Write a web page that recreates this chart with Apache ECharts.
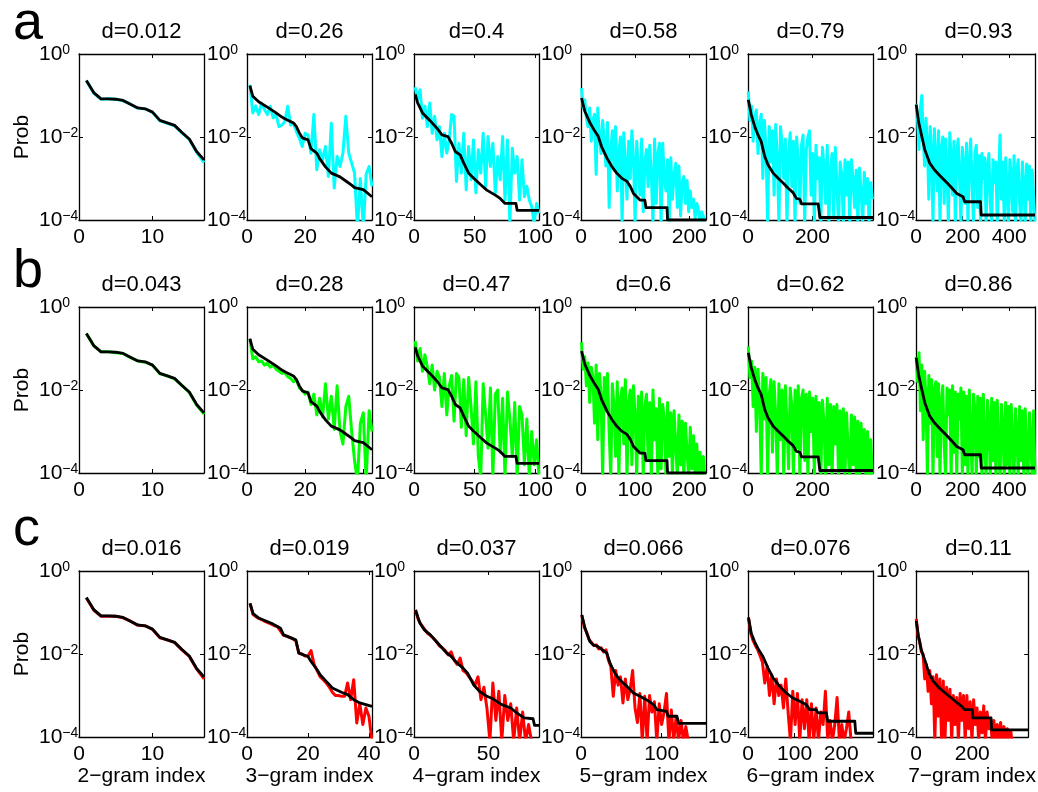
<!DOCTYPE html>
<html><head><meta charset="utf-8">
<script src="https://cdn.jsdelivr.net/npm/echarts@6/dist/echarts.min.js"></script>
<style>html,body{margin:0;padding:0;background:#fff}#c{width:1038px;height:792px}</style>
</head><body><div id="c"></div>
<script>
// ---------- DATA (all probabilities stored as log10(Prob)) ----------
const rowLetters = ['a', 'b', 'c'];
const dA = ['0.012', '0.26', '0.4', '0.58', '0.79', '0.93'];
const dB = ['0.043', '0.28', '0.47', '0.6', '0.62', '0.86'];
const dC = ['0.016', '0.019', '0.037', '0.066', '0.076', '0.11'];
const xNames = ['2\u2212gram index', '3\u2212gram index', '4\u2212gram index', '5\u2212gram index', '6\u2212gram index', '7\u2212gram index'];
const xMaxAB = [17, 43, 103, 231, 388, 511];
const xMaxC = [17, 41, 84, 155, 268, 399];
const xTickAB = [10, 20, 50, 100, 200, 200];
const xTickC = [10, 20, 50, 100, 100, 200];
// index spacing of the sampled coloured curves
const stepAB = [1, 1, 2, 3, 5, 6];
const stepC = [1, 1, 2, 3, 5, 6];

// black (data) curves, [index, log10 prob]
const blk2 = [[1,-0.64],[2,-0.93],[3,-1.08],[4,-1.08],[5,-1.09],[6,-1.12],[7,-1.21],[8,-1.30],[9,-1.32],[10,-1.40],[11,-1.60],[12,-1.66],[13,-1.72],[14,-1.89],[15,-2.05],[16,-2.35],[17,-2.55]];
const blkAB3 = [[1,-0.76],[2,-1.02],[4,-1.15],[7,-1.28],[10,-1.42],[12,-1.52],[13,-1.56],[16,-1.66],[17,-1.75],[18,-1.90],[19,-2.02],[21,-2.07],[22,-2.28],[24,-2.39],[25,-2.52],[27,-2.72],[29,-2.87],[31,-2.93],[32,-2.96],[34,-3.06],[36,-3.16],[37,-3.22],[40,-3.27],[43,-3.44]];
const blkAB4 = [[1,-0.97],[3,-1.18],[7,-1.42],[13,-1.60],[19,-1.79],[23,-1.95],[28,-1.99],[31,-2.15],[34,-2.35],[38,-2.43],[41,-2.63],[45,-2.87],[49,-2.99],[55,-3.15],[60,-3.28],[67,-3.40],[71,-3.48],[75,-3.60],[84,-3.60],[85,-3.77],[103,-3.77]];
const blkAB5 = [[1,-1.06],[7,-1.38],[17,-1.67],[26,-1.87],[32,-1.99],[38,-2.23],[48,-2.51],[57,-2.71],[66,-2.87],[75,-2.99],[85,-3.07],[91,-3.19],[97,-3.36],[109,-3.52],[118,-3.52],[120,-3.70],[159,-3.70],[160,-4.0],[231,-4.0]];
const blkAB6 = [[1,-1.10],[10,-1.46],[21,-1.75],[31,-1.95],[41,-2.11],[52,-2.47],[62,-2.67],[78,-2.87],[93,-2.99],[109,-3.11],[124,-3.23],[140,-3.34],[150,-3.48],[161,-3.50],[166,-3.61],[218,-3.61],[223,-3.94],[388,-3.94]];
const blkAB7 = [[1,-1.22],[11,-1.63],[25,-1.99],[38,-2.31],[59,-2.63],[79,-2.79],[106,-2.95],[134,-3.11],[154,-3.23],[175,-3.36],[202,-3.44],[209,-3.56],[277,-3.56],[280,-3.88],[511,-3.88]];
const blkC3 = [[1,-0.78],[2,-1.03],[4,-1.14],[8,-1.26],[11,-1.38],[12,-1.54],[14,-1.60],[16,-1.66],[17,-1.98],[20,-2.06],[21,-2.18],[23,-2.38],[24,-2.50],[26,-2.66],[28,-2.82],[31,-2.92],[33,-2.98],[35,-3.10],[37,-3.18],[41,-3.26]];
const blkC4 = [[1,-0.94],[4,-1.26],[7,-1.42],[11,-1.54],[15,-1.70],[18,-1.82],[22,-1.98],[25,-2.06],[29,-2.22],[33,-2.34],[36,-2.46],[40,-2.74],[44,-2.90],[49,-3.02],[53,-3.08],[59,-3.22],[65,-3.30],[69,-3.42],[74,-3.54],[80,-3.56],[81,-3.72],[84,-3.72]];
const blkC5 = [[1,-1.06],[5,-1.38],[11,-1.70],[15,-1.78],[21,-1.82],[32,-1.98],[36,-2.22],[42,-2.46],[48,-2.62],[57,-2.78],[65,-2.94],[73,-3.02],[81,-3.10],[90,-3.22],[94,-3.34],[106,-3.38],[108,-3.50],[119,-3.50],[121,-3.67],[155,-3.67]];
const blkC6 = [[1,-1.12],[7,-1.50],[14,-1.70],[21,-1.86],[32,-2.06],[43,-2.34],[54,-2.58],[68,-2.78],[82,-2.94],[96,-3.06],[111,-3.14],[125,-3.22],[132,-3.34],[146,-3.34],[150,-3.42],[168,-3.42],[171,-3.62],[229,-3.62],[231,-3.91],[268,-3.91]];
const blkC7 = [[1,-1.20],[2,-1.26],[9,-1.58],[19,-1.90],[35,-2.22],[46,-2.46],[62,-2.66],[83,-2.82],[104,-2.94],[126,-3.06],[147,-3.18],[163,-3.26],[173,-3.34],[200,-3.34],[202,-3.54],[267,-3.54],[269,-3.83],[399,-3.83]];

// coloured (model) curves, log10 prob sampled every `step` indices from index 1
const cyan2 = [-0.64,-0.94,-1.09,-1.08,-1.09,-1.13,-1.21,-1.31,-1.32,-1.41,-1.61,-1.67,-1.73,-1.90,-2.06,-2.37,-2.62];
const cyan3 = [-0.74,-1.42,-1.25,-1.46,-1.18,-1.34,-1.46,-1.26,-1.54,-1.46,-1.75,-1.71,-1.63,-1.26,-1.71,-1.67,-1.87,-2.03,-2.23,-1.91,-1.95,-2.39,-1.46,-2.79,-2.31,-2.55,-2.23,-2.95,-1.67,-3.23,-2.47,-2.71,-2.39,-1.50,-2.39,-2.63,-2.87,-4.2,-3.0,-4.2,-2.9,-2.71,-3.19];
const cyan4 = [-0.80,-1.10,-0.86,-1.55,-1.26,-1.75,-1.18,-1.91,-1.50,-2.07,-1.75,-2.47,-1.91,-2.39,-2.07,-1.46,-1.50,-3.07,-2.15,-2.87,-1.91,-3.27,-2.23,-3.03,-2.07,-3.35,-2.31,-2.87,-1.91,-3.19,-1.99,-2.71,-2.15,-3.35,-2.47,-3.03,-1.99,-3.52,-2.07,-4.1,-2.27,-2.87,-2.47,-3.52,-2.55,-3.44,-3.19,-3.52,-3.68,-4.1,-3.60,-3.84];
const cyan5 = [-0.82,-1.30,-1.10,-1.55,-1.75,-1.30,-2.10,-1.60,-1.45,-2.90,-1.30,-2.00,-2.40,-1.60,-2.10,-2.70,-1.65,-3.70,-2.30,-1.85,-2.80,-1.75,-3.30,-2.40,-2.00,-4.1,-1.90,-2.60,-3.50,-2.10,-3.00,-1.85,-2.50,-4.1,-2.10,-2.80,-3.40,-2.05,-3.80,-2.60,-2.30,-3.20,-2.20,-2.90,-4.1,-2.05,-3.60,-2.40,-2.15,-4.1,-2.15,-3.00,-3.30,-2.55,-4.1,-2.50,-3.50,-2.90,-2.63,-3.70,-2.70,-3.90,-3.10,-2.95,-3.60,-3.05,-3.80,-3.30,-3.70,-3.50,-3.95,-3.60,-3.75,-4.1,-3.80,-3.90,-4.1];
const cyan6 = [-0.90,-1.60,-1.25,-2.10,-1.50,-1.35,-2.40,-1.70,-1.45,-3.00,-1.60,-2.30,-4.1,-1.75,-2.60,-1.85,-3.40,-1.70,-2.50,-4.1,-1.75,-2.20,-3.00,-2.05,-4.1,-2.40,-1.90,-3.20,-2.10,-4.1,-2.00,-2.60,-3.60,-2.20,-1.95,-4.1,-2.30,-2.00,-1.85,-3.40,-2.40,-4.1,-2.20,-3.00,-2.50,-4.1,-2.25,-2.70,-3.60,-2.20,-4.1,-2.80,-2.40,-3.90,-2.25,-3.20,-4.1,-2.60,-2.90,-4.1,-2.55,-3.40,-2.60,-4.1,-2.55,-3.00,-3.70,-2.80,-4.1,-2.75,-3.30,-4.1,-2.85,-3.60,-3.00,-4.1,-3.10,-3.50];
const cyan7 = [-1.20,-1.60,-2.30,-1.30,-1.00,-2.00,-2.70,-1.55,-2.20,-3.50,-1.75,-2.40,-4.1,-1.80,-2.60,-3.30,-1.85,-4.1,-2.30,-2.00,-3.60,-2.05,-2.80,-4.1,-1.90,-2.50,-3.40,-2.10,-4.1,-2.40,-2.05,-3.00,-4.1,-2.25,-2.70,-3.60,-2.15,-4.1,-2.60,-2.05,-3.20,-4.1,-2.40,-2.20,-3.70,-2.45,-4.1,-2.40,-3.00,-2.50,-4.1,-2.70,-2.40,-3.60,-4.1,-2.55,-3.10,-2.60,-4.1,-2.90,-1.95,-3.50,-2.60,-4.1,-2.50,-3.30,-4.1,-2.55,-2.90,-3.80,-2.45,-4.1,-2.80,-2.55,-3.60,-4.1,-2.60,-3.20,-4.1,-2.65,-3.50,-2.70,-4.1,-2.80,-3.40,-4.1];

const green2 = [-0.64,-0.93,-1.08,-1.08,-1.10,-1.12,-1.22,-1.30,-1.33,-1.40,-1.61,-1.66,-1.73,-1.89,-2.06,-2.36,-2.58];
const green3 = [-0.78,-1.25,-1.20,-1.32,-1.30,-1.40,-1.35,-1.45,-1.40,-1.50,-1.55,-1.60,-1.58,-1.68,-1.72,-1.80,-1.75,-1.95,-2.00,-2.10,-2.05,-2.35,-2.10,-2.60,-2.20,-2.65,-1.85,-2.70,-2.15,-2.95,-1.90,-3.00,-3.30,-2.40,-2.15,-3.00,-3.70,-4.2,-2.80,-2.55,-4.2,-2.50,-3.00];
const green4 = [-0.82,-1.30,-1.00,-1.55,-1.15,-1.45,-1.85,-1.40,-2.00,-1.55,-1.70,-2.40,-1.60,-2.60,-1.90,-1.65,-2.75,-1.60,-1.70,-2.90,-1.75,-3.10,-1.70,-2.40,-3.30,-1.80,-3.60,-4.1,-1.85,-2.60,-3.40,-1.95,-4.1,-2.10,-2.00,-3.50,-2.20,-4.1,-2.05,-2.70,-3.60,-2.30,-4.1,-2.40,-2.60,-3.80,-2.70,-4.1,-3.00,-3.80,-3.20,-4.1];
const green5 = [-0.85,-1.50,-1.20,-1.90,-1.35,-2.30,-1.45,-1.70,-2.80,-1.40,-3.20,-1.60,-2.10,-4.1,-1.70,-2.50,-1.60,-3.00,-4.1,-1.85,-2.40,-3.60,-1.80,-4.1,-2.20,-1.95,-3.30,-1.75,-4.1,-2.30,-2.00,-3.80,-1.90,-2.60,-4.1,-2.15,-3.50,-2.05,-4.1,-2.40,-2.10,-3.70,-2.30,-4.1,-2.00,-3.20,-2.45,-4.1,-2.20,-3.90,-2.35,-2.70,-4.1,-2.30,-3.60,-2.55,-4.1,-2.50,-3.30,-4.1,-2.60,-3.80,-2.75,-4.1,-2.80,-3.50,-4.1,-2.90,-3.90,-3.10,-4.1,-3.30,-4.1,-3.50,-4.1,-3.60,-4.1];
const green6 = [-0.95,-1.70,-1.30,-2.40,-1.45,-3.00,-1.50,-2.20,-4.1,-1.60,-2.70,-1.70,-4.1,-2.10,-1.75,-3.50,-1.80,-2.60,-4.1,-1.85,-3.20,-2.00,-4.1,-1.90,-2.80,-3.90,-1.95,-2.40,-4.1,-2.00,-3.40,-1.90,-4.1,-2.20,-2.00,-3.70,-2.10,-4.1,-2.05,-3.00,-2.20,-4.1,-2.15,-3.60,-2.30,-4.1,-2.25,-2.80,-4.1,-2.20,-3.80,-2.35,-4.1,-2.40,-3.30,-2.35,-4.1,-2.50,-3.90,-2.45,-4.1,-2.55,-3.50,-4.1,-2.60,-3.80,-2.65,-4.1,-2.75,-4.1,-2.80,-3.90,-2.95,-4.1,-3.00,-4.1,-3.20,-4.1];
const green7 = [-1.20,-1.80,-1.10,-2.50,-1.40,-3.20,-1.55,-2.20,-4.1,-1.65,-2.80,-1.75,-4.1,-2.00,-1.80,-3.60,-1.85,-4.1,-2.30,-1.90,-3.30,-4.1,-1.95,-2.60,-2.00,-4.1,-1.90,-3.50,-2.05,-4.1,-2.10,-2.70,-1.95,-4.1,-2.05,-3.80,-2.15,-4.1,-2.00,-3.00,-4.1,-2.10,-2.50,-4.1,-2.15,-3.60,-2.20,-4.1,-2.10,-3.20,-4.1,-2.25,-2.70,-4.1,-2.20,-3.70,-2.30,-4.1,-2.25,-3.40,-4.1,-2.35,-2.90,-4.1,-2.30,-3.80,-2.40,-4.1,-2.35,-3.30,-4.1,-2.45,-3.00,-4.1,-2.40,-3.70,-2.50,-4.1,-2.45,-3.50,-4.1,-2.55,-3.20,-4.1,-2.50,-4.1];

const red2 = [-0.65,-0.94,-1.09,-1.09,-1.09,-1.13,-1.21,-1.31,-1.32,-1.41,-1.61,-1.66,-1.72,-1.90,-2.06,-2.36,-2.60];
const red3 = [-0.78,-1.05,-1.10,-1.15,-1.18,-1.22,-1.25,-1.28,-1.32,-1.34,-1.45,-1.55,-1.57,-1.60,-1.63,-1.68,-1.98,-2.00,-2.05,-2.05,-1.92,-2.25,-2.40,-2.55,-2.62,-2.70,-2.80,-2.92,-3.00,-3.00,-3.02,-3.02,-2.70,-3.10,-2.62,-3.66,-3.20,-3.70,-3.30,-3.50,-4.1];
const red4 = [-0.94,-1.18,-1.30,-1.40,-1.50,-1.55,-1.62,-1.70,-1.80,-1.85,-1.92,-2.02,-1.95,-2.15,-2.25,-2.10,-2.40,-2.45,-2.55,-2.65,-2.75,-2.55,-3.10,-2.80,-3.30,-4.1,-2.70,-3.60,-2.90,-4.1,-3.00,-3.60,-3.20,-4.1,-3.30,-4.1,-3.40,-4.1,-3.70,-4.1,-4.2,-4.2];
const red5 = [-1.06,-1.35,-1.48,-1.65,-1.72,-1.80,-1.78,-1.88,-1.85,-1.95,-1.90,-2.15,-2.30,-3.02,-2.40,-2.75,-2.55,-3.18,-2.60,-3.10,-2.85,-2.40,-3.30,-3.65,-2.95,-4.1,-3.02,-4.1,-3.00,-3.40,-3.15,-4.1,-3.20,-3.70,-3.40,-2.95,-4.1,-3.35,-4.1,-3.50,-4.1,-3.60,-4.1,-3.75,-4.1,-4.1,-4.2];
const red6 = [-1.12,-1.50,-1.68,-1.80,-1.90,-2.05,-2.20,-2.70,-2.30,-3.00,-2.50,-3.20,-2.60,-3.00,-2.75,-3.30,-2.60,-3.40,-4.1,-2.90,-3.70,-2.95,-4.1,-3.10,-3.80,-3.10,-4.1,-3.20,-4.1,-3.30,-4.1,-3.40,-3.70,-2.90,-4.1,-3.60,-4.1,-3.70,-3.05,-4.1,-3.70,-4.1,-3.80,-3.40,-4.1];
const red7 = [-1.15,-1.55,-1.70,-1.95,-2.00,-2.60,-2.25,-2.90,-2.40,-3.20,-2.55,-4.1,-2.50,-3.50,-2.60,-4.1,-2.65,-4.1,-2.80,-3.60,-2.85,-4.1,-3.00,-3.70,-3.05,-4.1,-2.95,-3.60,-3.00,-4.1,-3.00,-3.80,-3.15,-4.1,-3.10,-3.70,-3.30,-4.1,-3.40,-3.90,-3.25,-4.1,-3.40,-3.80,-3.55,-4.1,-3.60,-4.1,-3.70,-4.1,-3.65,-4.1,-3.75,-4.1,-3.80,-4.1,-3.85,-4.2];

// ---------- BUILD ----------
const FONT = '"Liberation Sans", Arial, Helvetica, sans-serif';
const gridLeft = [79, 247, 414, 581, 748, 916];
const gridTop = [54, 307, 571];
const letterY = [24, 272, 530];
const PW = 125, PH = 166;
const rows = [
  { color: '#00ffff', d: dA, xmax: xMaxAB, tick: xTickAB, step: stepAB, black: [blk2, blkAB3, blkAB4, blkAB5, blkAB6, blkAB7], model: [cyan2, cyan3, cyan4, cyan5, cyan6, cyan7] },
  { color: '#00ff00', d: dB, xmax: xMaxAB, tick: xTickAB, step: stepAB, black: [blk2, blkAB3, blkAB4, blkAB5, blkAB6, blkAB7], model: [green2, green3, green4, green5, green6, green7] },
  { color: '#ff0000', d: dC, xmax: xMaxC, tick: xTickC, step: stepC, black: [blk2, blkC3, blkC4, blkC5, blkC6, blkC7], model: [red2, red3, red4, red5, red6, red7] }
];

const grid = [], xAxis = [], yAxis = [], series = [], graphic = [];
const txt = { color: '#000', fontFamily: FONT };
rows.forEach((row, r) => {
  graphic.push({ type: 'text', x: 13, y: letterY[r], silent: true,
    style: { text: rowLetters[r], font: '54px ' + FONT, fill: '#000', textAlign: 'left', align: 'left', textVerticalAlign: 'middle', verticalAlign: 'middle' } });
  for (let c = 0; c < 6; c++) {
    const k = r * 6 + c;
    const tick = row.tick[c];
    grid.push({ left: gridLeft[c], top: gridTop[r], width: PW, height: PH, containLabel: false });
    graphic.push({ type: 'text', x: gridLeft[c] + PW / 2, y: gridTop[r] - 22, silent: true,
      style: { text: 'd=' + row.d[c], font: '22px ' + FONT, fill: '#000', textAlign: 'center', align: 'center', textVerticalAlign: 'middle', verticalAlign: 'middle' } });
    const axLine = { show: true, onZero: false, lineStyle: { color: '#000', width: 1.3 } };
    const axTick = { show: true, inside: true, length: 4, lineStyle: { color: '#000', width: 1 } };
    xAxis.push({ gridIndex: k, type: 'value', position: 'bottom', min: 0, max: row.xmax[c], interval: tick,
      axisLine: axLine, axisTick: axTick, splitLine: { show: false },
      axisLabel: { margin: 7, fontSize: 21, ...txt, formatter: v => (v % tick === 0 ? String(v) : '') },
      name: r === 2 ? xNames[c] : '', nameLocation: 'middle', nameGap: 27, nameTextStyle: { fontSize: 21, ...txt } });
    xAxis.push({ gridIndex: k, type: 'value', position: 'top', min: 0, max: row.xmax[c], interval: tick,
      axisLine: axLine, axisTick: axTick, splitLine: { show: false }, axisLabel: { show: false } });
    yAxis.push({ gridIndex: k, type: 'value', position: 'left', min: -4, max: 0, interval: 2,
      axisLine: axLine, axisTick: axTick, splitLine: { show: false },
      axisLabel: { margin: 40, align: 'left', ...txt,
        formatter: v => '{b|10}{s|' + (v === 0 ? '0' : '\u2212' + (-v)) + '}',
        rich: { b: { fontSize: 21, fontFamily: FONT, color: '#000', verticalAlign: 'bottom', lineHeight: 22 },
                s: { fontSize: 14, fontFamily: FONT, color: '#000', verticalAlign: 'top', lineHeight: 14, padding: [0, 0, 10, 0] } } },
      name: c === 0 ? 'Prob' : '', nameLocation: 'middle', nameGap: 46, nameTextStyle: { fontSize: 21, ...txt } });
    yAxis.push({ gridIndex: k, type: 'value', position: 'right', min: -4, max: 0, interval: 2,
      axisLine: axLine, axisTick: axTick, splitLine: { show: false }, axisLabel: { show: false } });
    const st = row.step[c];
    series.push({ type: 'line', xAxisIndex: 2 * k, yAxisIndex: 2 * k, symbol: 'none', showSymbol: false, silent: true,
      data: row.model[c].map((v, i) => [1 + i * st, v]), z: 2,
      lineStyle: { color: row.color, width: 3, join: 'round' }, itemStyle: { color: row.color } });
    series.push({ type: 'line', xAxisIndex: 2 * k, yAxisIndex: 2 * k, symbol: 'none', showSymbol: false, silent: true,
      data: row.black[c], z: 3,
      lineStyle: { color: '#000', width: 2.8, join: 'round' }, itemStyle: { color: '#000' } });
  }
});

const chart = echarts.init(document.getElementById('c'), null, { renderer: 'canvas', width: 1038, height: 792 });
chart.setOption({ animation: false, backgroundColor: '#fff', grid, xAxis, yAxis, series, graphic });
</script>
</body></html>
